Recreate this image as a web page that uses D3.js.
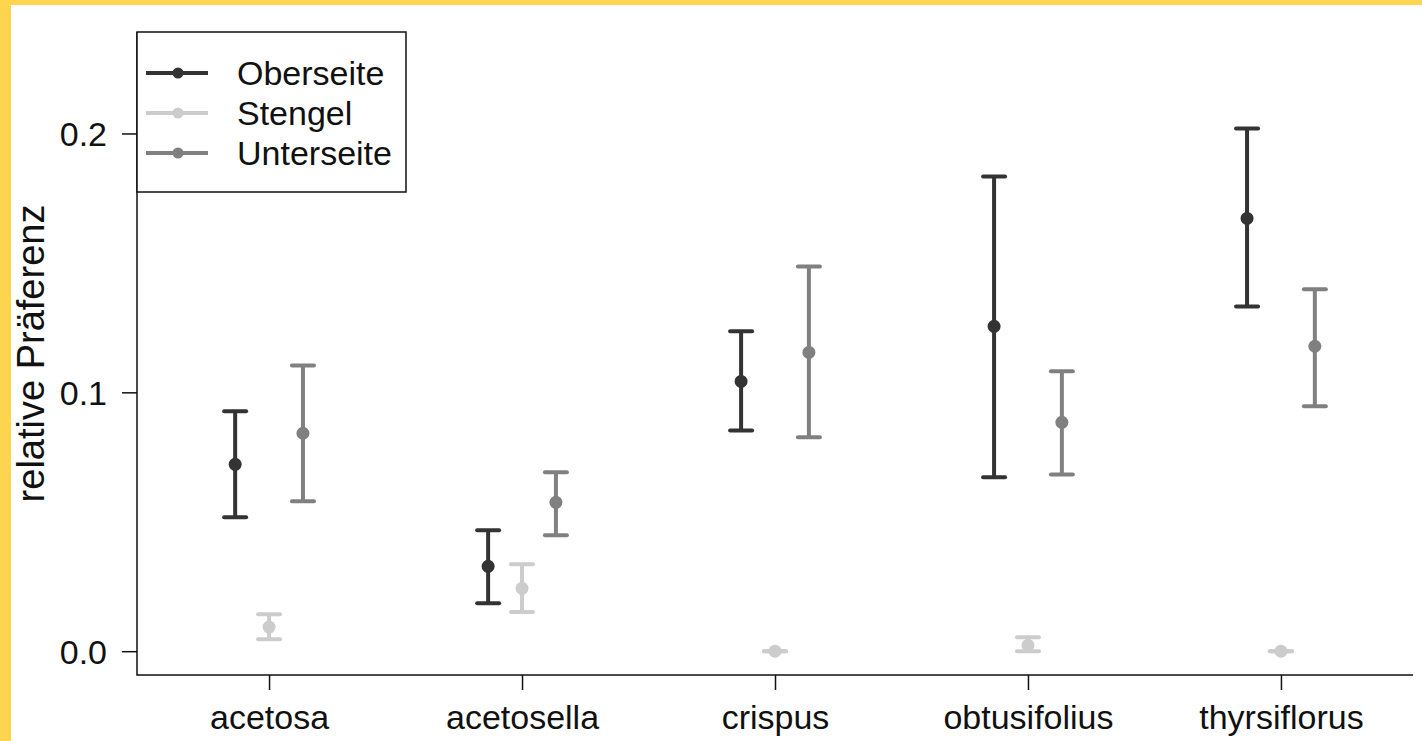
<!DOCTYPE html>
<html lang="de">
<head>
    <meta charset="UTF-8">
    <title>relative Präferenz</title>
    <script src="https://cdnjs.cloudflare.com/ajax/libs/d3/7.8.5/d3.min.js"></script>
    <style>
        html, body { margin: 0; padding: 0; background: #fff; }
        svg { display: block; }
        text { font-family: "Liberation Sans", Arial, sans-serif; fill: #111; }
    </style>
</head>
<body>
<div id="chart"></div>
<script>
// species on the x axis
const categories = ["acetosa", "acetosella", "crispus", "obtusifolius", "thyrsiflorus"];
const series = ["Oberseite", "Stengel", "Unterseite"];
const seriesColors = ["#333333", "#cccccc", "#808080"];

// means per series, same order as categories
const oberseiteMean = [0.0722, 0.0328, 0.1042, 0.1255, 0.1672];
const stengelMean = [0.0093, 0.0243, 0.0, 0.0023, 0.0];
const unterseiteMean = [0.0842, 0.0575, 0.1154, 0.0884, 0.1178];

// lower / upper ends of the error bars
const oberseiteLow = [0.0517, 0.0185, 0.0853, 0.0672, 0.1332];
const oberseiteHigh = [0.0927, 0.0467, 0.1236, 0.1834, 0.2019];
const stengelLow = [0.0046, 0.0151, 0.0, 0.0, 0.0];
const stengelHigh = [0.0143, 0.0336, 0.0, 0.0054, 0.0];
const unterseiteLow = [0.0579, 0.0448, 0.0826, 0.0683, 0.0946];
const unterseiteHigh = [0.1104, 0.0691, 0.1486, 0.1081, 0.1398];

const yTicks = [0.0, 0.1, 0.2];

const means = [oberseiteMean, stengelMean, unterseiteMean];
const lows = [oberseiteLow, stengelLow, unterseiteLow];
const highs = [oberseiteHigh, stengelHigh, unterseiteHigh];

const width = 1422, height = 741;
const plot = { left: 137, right: 1413, top: 32, bottom: 675 };
const offset = 0.134; // dodge between series inside a group

const svg = d3.select("#chart").append("svg")
    .attr("width", width)
    .attr("height", height);

// yellow frame on the top and left edge
svg.append("rect").attr("x", 0).attr("y", 0).attr("width", width).attr("height", height).attr("fill", "#fff");
svg.append("rect").attr("x", 0).attr("y", 0).attr("width", 11).attr("height", height).attr("fill", "#ffd54f");
svg.append("rect").attr("x", 0).attr("y", 0).attr("width", width).attr("height", 5).attr("fill", "#ffd54f");

const x = d3.scaleLinear().domain([0.478, 5.522]).range([plot.left, plot.right]);
const y = d3.scaleLinear().domain([-0.0092, 0.2392]).range([plot.bottom, plot.top]);

// axes, R style
const yAxis = d3.axisLeft(y).tickValues(yTicks).tickFormat(d3.format(".1f")).tickSize(15).tickPadding(15);
const gy = svg.append("g").attr("transform", `translate(${plot.left},0)`).call(yAxis);
gy.select(".domain").remove();
gy.selectAll(".tick line").attr("stroke", "#111").attr("stroke-width", 1.5);
gy.selectAll(".tick text").attr("font-size", 34).attr("dy", "0.36em").style("fill", "#111");

const xAxis = d3.axisBottom(x).tickValues(d3.range(1, categories.length + 1))
    .tickFormat(i => categories[i - 1]).tickSize(15).tickPadding(15);
const gx = svg.append("g").attr("transform", `translate(0,${plot.bottom})`).call(xAxis);
gx.select(".domain").remove();
gx.selectAll(".tick line").attr("stroke", "#111").attr("stroke-width", 1.5);
gx.selectAll(".tick text").attr("font-size", 34).attr("dy", "0.7em").style("fill", "#111");

// L-shaped frame
svg.append("path")
    .attr("d", `M${plot.left},${plot.top}V${plot.bottom}H${plot.right}`)
    .attr("fill", "none").attr("stroke", "#111").attr("stroke-width", 1.5);

// y label
svg.append("text")
    .attr("transform", `translate(44,${(plot.top + plot.bottom) / 2}) rotate(-90)`)
    .attr("text-anchor", "middle")
    .attr("font-size", 38)
    .text("relative Präferenz");

// error bars and points
const capHalf = 11;
series.forEach((name, s) => {
    const g = svg.append("g");
    const col = seriesColors[s];
    const rows = categories.map((c, i) => ({
        cx: x(i + 1 + (s - 1) * offset),
        m: means[s][i], lo: lows[s][i], hi: highs[s][i]
    }));
    g.selectAll("line.bar").data(rows).enter().append("line")
        .attr("x1", d => d.cx).attr("x2", d => d.cx)
        .attr("y1", d => y(d.lo)).attr("y2", d => y(d.hi))
        .attr("stroke", col).attr("stroke-width", 4);
    ["lo", "hi"].forEach(k => {
        g.selectAll("line.cap" + k).data(rows).enter().append("line")
            .attr("x1", d => d.cx - capHalf).attr("x2", d => d.cx + capHalf)
            .attr("y1", d => y(d[k])).attr("y2", d => y(d[k]))
            .attr("stroke", col).attr("stroke-width", 4).attr("stroke-linecap", "round");
    });
    g.selectAll("circle").data(rows).enter().append("circle")
        .attr("cx", d => d.cx).attr("cy", d => y(d.m)).attr("r", 6.5)
        .attr("fill", col);
});

// legend
const lg = svg.append("g");
lg.append("rect").attr("x", plot.left).attr("y", plot.top).attr("width", 269).attr("height", 160)
    .attr("fill", "#fff").attr("stroke", "#111").attr("stroke-width", 1.5);
series.forEach((name, s) => {
    const ly = 73 + s * 40;
    lg.append("line").attr("x1", 146).attr("x2", 208).attr("y1", ly).attr("y2", ly)
        .attr("stroke", seriesColors[s]).attr("stroke-width", 4);
    lg.append("circle").attr("cx", 178).attr("cy", ly).attr("r", 5.5).attr("fill", seriesColors[s]);
    lg.append("text").attr("x", 237).attr("y", ly).attr("dy", "0.36em")
        .attr("font-size", 34).text(name);
});
</script>
</body>
</html>
